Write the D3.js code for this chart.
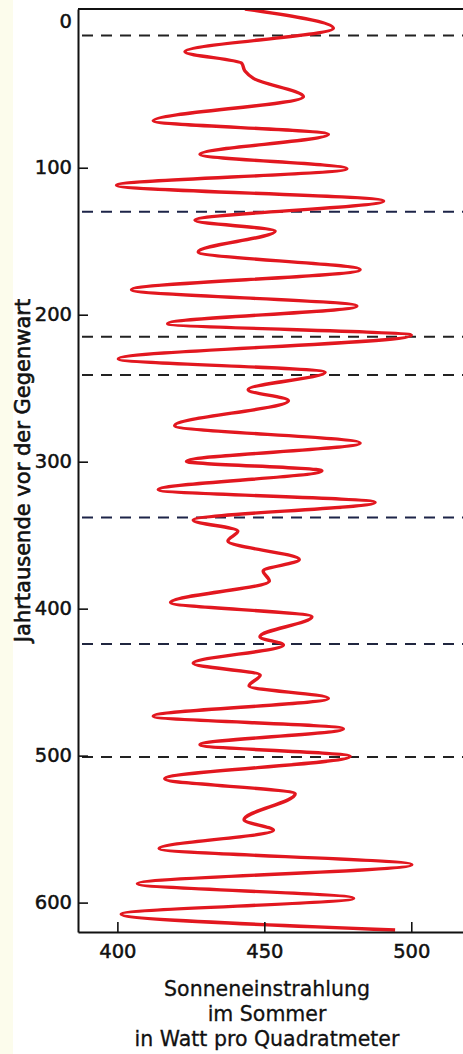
<!DOCTYPE html>
<html>
<head>
<meta charset="utf-8">
<script src="https://cdn.jsdelivr.net/npm/d3@7"></script>
<style>
  body { margin: 0; background: #fff; }
  #chart { width: 463px; height: 1054px; }
</style>
</head>
<body>
<div id="chart"></div>
<script>
"use strict";

// Summer insolation curve (thousands of years ago, W/m2)
var ages = [-8, 5.1, 21.1, 28.9, 34.2, 39.2, 51.7, 68.1, 77.3, 90.9,
            100.7, 112.0, 122.6, 135.8, 143.1, 157.3, 169.4, 183.0, 194.1, 206.1,
            214.0, 230.1, 239.2, 251.0, 258.5, 275.5, 287.3, 299.8, 306.1, 319.1,
            327.6, 339.7, 347.2, 354.0, 366.6, 374.4, 381.2, 395.8, 405.5, 419.1,
            424.7, 437.2, 445.2, 452.6, 461.0, 473.2, 481.7, 492.6, 500.5, 515.8,
            526.0, 543.7, 550.8, 563.2, 574.2, 587.2, 597.0, 607.8, 618.6];
var insolation = [443.4, 473.5, 423.0, 442.3, 443.4, 446.3, 463.3, 412.2, 471.8, 428.1,
                  478.1, 399.7, 490.6, 426.4, 453.7, 427.5, 482.6, 404.8, 481.5, 417.1,
                  500.0, 400.3, 470.7, 444.5, 458.2, 419.5, 482.6, 423.5, 469.6, 413.9,
                  487.7, 425.8, 441.0, 437.6, 461.9, 449.6, 451.7, 418.1, 466.2, 448.5,
                  456.5, 425.8, 448.6, 444.8, 471.8, 412.2, 476.9, 428.1, 479.2, 416.1,
                  460.5, 443.1, 453.1, 414.2, 500.2, 406.8, 480.4, 401.3, 494.5];

// Dashed marker lines (interglacial ages)
var dashAges = [10, 130, 215, 241, 338, 424, 501];
var dashColors = ["#222", "#1d2448", "#222", "#222", "#1d2448", "#20263f", "#222"];

var yTicks = [0, 100, 200, 300, 400, 500, 600];
var xTicks = [400, 450, 500];

var yTitle = "Jahrtausende vor der Gegenwart";
var xTitle = ["Sonneneinstrahlung", "im Sommer", "in Watt pro Quadratmeter"];

var draw = function () {
  var data = ages.map(function (a, i) { return { age: a, val: insolation[i] }; });

  var W = 463, H = 1054;
  var margin = { left: 78, right: 463, top: 9, bottom: 932 };

  var svg = d3.select("#chart")
              .append("svg")
              .attr("width", W)
              .attr("height", H)
              .style("font-family", "'DejaVu Sans', sans-serif");

  // faint cream strip at the left edge
  svg.append("rect")
     .attr("x", 0).attr("y", 0)
     .attr("width", 13).attr("height", H)
     .attr("fill", "#fcfcec");

  // Scales
  var x = d3.scaleLinear()
            .domain([386.6, 517.6])
            .range([margin.left, margin.right]);

  var y = d3.scaleLinear()
            .domain([-8, 620])
            .range([margin.top, margin.bottom]);

  svg.append("clipPath")
     .attr("id", "plot")
     .append("rect")
     .attr("x", margin.left).attr("y", margin.top)
     .attr("width", margin.right - margin.left)
     .attr("height", margin.bottom - margin.top);

  // Dashed lines
  svg.selectAll("line.dash")
     .data(dashAges)
     .enter()
     .append("line")
     .attr("class", "dash")
     .attr("x1", margin.left + 4)
     .attr("x2", margin.right)
     .attr("y1", function (d) { return y(d); })
     .attr("y2", function (d) { return y(d); })
     .attr("stroke", function (d, i) { return dashColors[i]; })
     .attr("stroke-width", 2)
     .attr("stroke-dasharray", "11,8");

  // Insolation curve
  var line = d3.line()
               .x(function (d) { return x(d.val); })
               .y(function (d) { return y(d.age); })
               .curve(d3.curveMonotoneY);

  svg.append("path")
     .datum(data)
     .attr("clip-path", "url(#plot)")
     .attr("d", line)
     .attr("fill", "none")
     .attr("stroke", "#e2171f")
     .attr("stroke-width", 3.4)
     .attr("stroke-linejoin", "round");

  // Axes
  var yAxis = d3.axisLeft(y)
                .tickValues(yTicks)
                .tickSizeInner(-10)
                .tickSizeOuter(0)
                .tickPadding(6);

  var gy = svg.append("g")
              .attr("transform", "translate(" + margin.left + ",0)")
              .call(yAxis);

  var xAxis = d3.axisBottom(x)
                .tickValues(xTicks)
                .tickSizeInner(-10)
                .tickSizeOuter(0)
                .tickPadding(12);

  var gx = svg.append("g")
              .attr("transform", "translate(0," + margin.bottom + ")")
              .call(xAxis);

  [gy, gx].forEach(function (g) {
    g.select(".domain").attr("stroke", "#111").attr("stroke-width", 2);
    g.selectAll(".tick line").attr("stroke", "#111").attr("stroke-width", 1.6);
    g.selectAll(".tick text")
     .attr("fill", "#111")
     .attr("stroke", "#111")
     .attr("stroke-width", 0.5)
     .style("font-family", "'DejaVu Sans', sans-serif")
     .style("font-size", "19.5px");
  });
  // no tick mark for 0, it sits against the top frame
  gy.selectAll(".tick").filter(function (d) { return d === 0; }).select("line").remove();

  // top frame line
  svg.append("line")
     .attr("x1", margin.left).attr("x2", margin.right)
     .attr("y1", margin.top).attr("y2", margin.top)
     .attr("stroke", "#111")
     .attr("stroke-width", 2);

  // Titles
  svg.append("text")
     .attr("transform", "translate(30," + ((margin.top + margin.bottom) / 2) + ") rotate(-90)")
     .attr("text-anchor", "middle")
     .attr("fill", "#111")
     .attr("stroke", "#111")
     .attr("stroke-width", 0.6)
     .style("font-size", "21px")
     .text(yTitle);

  svg.selectAll("text.xtitle")
     .data(xTitle)
     .enter()
     .append("text")
     .attr("class", "xtitle")
     .attr("x", 267)
     .attr("y", function (d, i) { return 996 + i * 24.8; })
     .attr("text-anchor", "middle")
     .attr("fill", "#111")
     .attr("stroke", "#111")
     .attr("stroke-width", 0.3)
     .style("font-size", "20.5px")
     .text(function (d) { return d; });
};

draw();
</script>
</body>
</html>
